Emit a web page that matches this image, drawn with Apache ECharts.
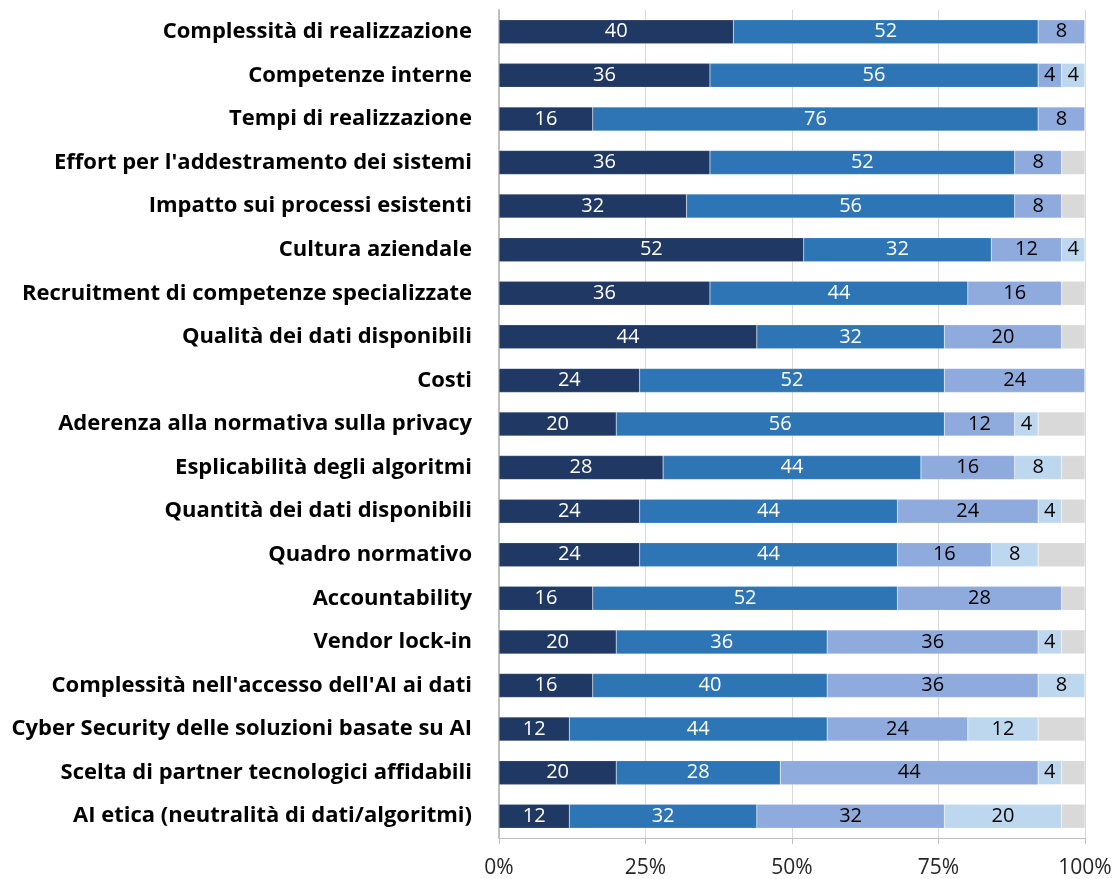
<!DOCTYPE html>
<html>
<head>
<meta charset="utf-8">
<script src="https://cdn.jsdelivr.net/npm/echarts@6/dist/echarts.min.js"></script>
<style>
html,body{margin:0;padding:0;background:#fff;}
#chart{width:1116px;height:879px;}
</style>
</head>
<body>
<div id="chart"></div>
<script>
const categories = [
  "Complessità di realizzazione",
  "Competenze interne",
  "Tempi di realizzazione",
  "Effort per l'addestramento dei sistemi",
  "Impatto sui processi esistenti",
  "Cultura aziendale",
  "Recruitment di competenze specializzate",
  "Qualità dei dati disponibili",
  "Costi",
  "Aderenza alla normativa sulla privacy",
  "Esplicabilità degli algoritmi",
  "Quantità dei dati disponibili",
  "Quadro normativo",
  "Accountability",
  "Vendor lock-in",
  "Complessità nell'accesso dell'AI ai dati",
  "Cyber Security delle soluzioni basate su AI",
  "Scelta di partner tecnologici affidabili",
  "AI etica (neutralità di dati/algoritmi)"
];
const seriesNames = ["Molto rilevante", "Rilevante", "Poco rilevante", "Per niente rilevante", "Non so"];
const s1 = [40, 36, 16, 36, 32, 52, 36, 44, 24, 20, 28, 24, 24, 16, 20, 16, 12, 20, 12];
const s2 = [52, 56, 76, 52, 56, 32, 44, 32, 52, 56, 44, 44, 44, 52, 36, 40, 44, 28, 32];
const s3 = [8, 4, 8, 8, 8, 12, 16, 20, 24, 12, 16, 24, 16, 28, 36, 36, 24, 44, 32];
const s4 = [0, 4, 0, 0, 0, 4, 0, 0, 0, 4, 8, 4, 8, 0, 4, 8, 12, 4, 20];
const s5 = [0, 0, 0, 4, 4, 0, 4, 4, 0, 8, 4, 4, 8, 4, 4, 0, 8, 4, 4];
const xTicks = ["0%", "25%", "50%", "75%", "100%"];

const colors = ["#203864", "#2e75b6", "#8faadc", "#bdd7ee", "#d9d9d9"];
const labelColors = ["#ffffff", "#ffffff", "#000000", "#000000", null];
const allData = [s1, s2, s3, s4, s5];
const FONT = "'Open Sans', sans-serif";

const chart = echarts.init(document.getElementById('chart'), null, {renderer: 'canvas'});
const series = allData.map((d, i) => ({
  name: seriesNames[i],
  type: 'bar',
  stack: 'total',
  barWidth: 24,
  data: d,
  itemStyle: {color: colors[i], borderColor: 'rgba(255,255,255,0.35)', borderWidth: 0.5},
  label: {
    show: i < 4,
    position: 'inside',
    color: labelColors[i] || '#000',
    fontFamily: FONT,
    fontSize: 20,
    formatter: p => (p.value > 0 ? String(p.value) : '')
  },
  emphasis: {disabled: true}
}));

chart.setOption({
  animation: false,
  grid: {left: 499, top: 10, width: 586, height: 828, containLabel: false, outerBoundsMode: 'none'},
  xAxis: {
    type: 'value',
    min: 0, max: 100, interval: 25,
    axisLine: {show: true, lineStyle: {color: '#bfbfbf', width: 1}},
    axisTick: {show: true, length: 6, lineStyle: {color: '#bfbfbf'}},
    splitLine: {show: true, lineStyle: {color: '#d9d9d9', width: 1}},
    axisLabel: {
      fontFamily: FONT, fontSize: 21, color: '#262626', margin: 20,
      formatter: v => xTicks[Math.round(v / 25)]
    }
  },
  yAxis: {
    type: 'category',
    data: categories,
    inverse: true,
    axisLine: {show: true, lineStyle: {color: '#bfbfbf', width: 2}},
    axisTick: {show: false},
    axisLabel: {
      fontFamily: FONT, fontSize: 22, fontWeight: 'bold', color: '#000', margin: 27
    }
  },
  series: series
});
</script>
</body>
</html>
